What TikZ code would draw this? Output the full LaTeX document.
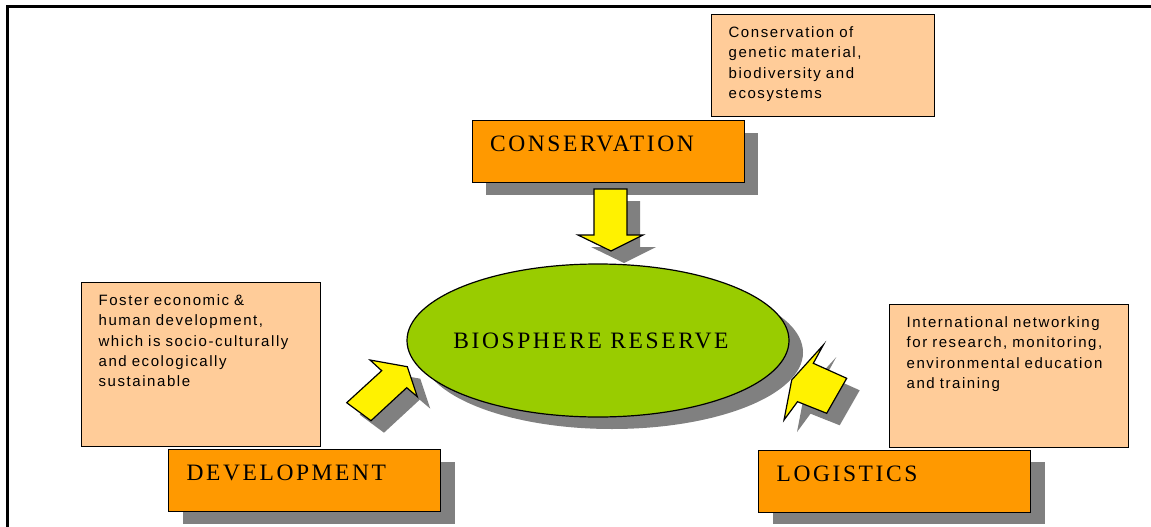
\documentclass[tikz,border=0pt]{standalone}
\usepackage{fontspec}
\setmainfont{Liberation Serif}
\newfontfamily\notefont[LetterSpace=10.5]{Liberation Sans}
\newfontfamily\rolefont[LetterSpace=11]{Liberation Serif}
\usetikzlibrary{shapes.geometric,shadows}
\definecolor{peach}{HTML}{FFCC99}
\definecolor{amber}{HTML}{FF9900}
\definecolor{leaf}{HTML}{99CC00}

\begin{document}
\begin{tikzpicture}[x=1pt,y=-1pt,
 castshadow/.style={drop shadow={shadow xshift=14pt,shadow yshift=-12pt,
   fill=gray,opacity=1}},
 role/.style={draw,line width=1.2pt,fill=amber,castshadow,anchor=north west,
   align=left,text width=236pt,inner xsep=18pt,inner ysep=14pt,
   text height=17pt,text depth=17pt,
   font=\rolefont\fontsize{23.5pt}{28pt}\selectfont},
 note/.style={draw,line width=1.2pt,fill=peach,anchor=north west,align=left,
   inner xsep=17pt,inner ysep=12pt,text height=11pt,
   font=\notefont\fontsize{15pt}{20.3pt}\selectfont},
 hub/.style={ellipse,draw,line width=1.2pt,fill=leaf,castshadow,inner sep=0pt,
   minimum width=382pt,minimum height=153pt,
   font=\rolefont\fontsize{23.5pt}{28pt}\selectfont},
 push/.style={draw,line width=1.2pt,fill=yellow,line join=miter,
   drop shadow={shadow xshift=13pt,shadow yshift=-12pt,fill=gray,opacity=1}}]
 \useasboundingbox (0,0) rectangle (1151,527);
 \draw[line width=2.5pt] (7.5,527) -- (7.5,6.7) -- (1151,6.7);

 % the three functions and what they stand for
 \node[note,text width=189pt,text depth=67pt] (consnote) at (711,14)
   {Conservation of\\genetic material,\\biodiversity and\\ecosystems};
 \node[note,text width=205pt,text depth=129pt] (devnote) at (81,282)
   {Foster economic \&\\human development,\\which is socio-culturally\\and ecologically\\sustainable};
 \node[note,text width=205pt,text depth=108pt] (lognote) at (889,304)
   {International networking\\for research, monitoring,\\environmental education\\and training};
 \node[role] (cons) at (471.5,120) {CONSERVATION};
 \node[role] (dev) at (168,449) {DEVELOPMENT};
 \node[role] (logi) at (758,449.5) {LOGISTICS};

 \node[hub] (reserve) at (598,340.5)
   {\makebox[240pt]{BIOSPHERE RESERVE\hspace*{14pt}}};

 % block arrows into the reserve
 \draw[push] (594,189) -- (627,189) -- (627,235) -- (643,235) -- (611,251)
   -- (578,235) -- (594,235) -- cycle;
 \draw[push] (346.7,402.7) -- (381.7,370.7) -- (370,360) -- (407.3,366.7)
   -- (417.3,396.7) -- (406.7,387.7) -- (371,420.7) -- cycle;
 \draw[push] (846.7,378.3) -- (813.3,363.3) -- (823.3,345) -- (791.7,380)
   -- (784,420) -- (797.5,401.7) -- (826.7,413.3) -- cycle;
\end{tikzpicture}
\end{document}
